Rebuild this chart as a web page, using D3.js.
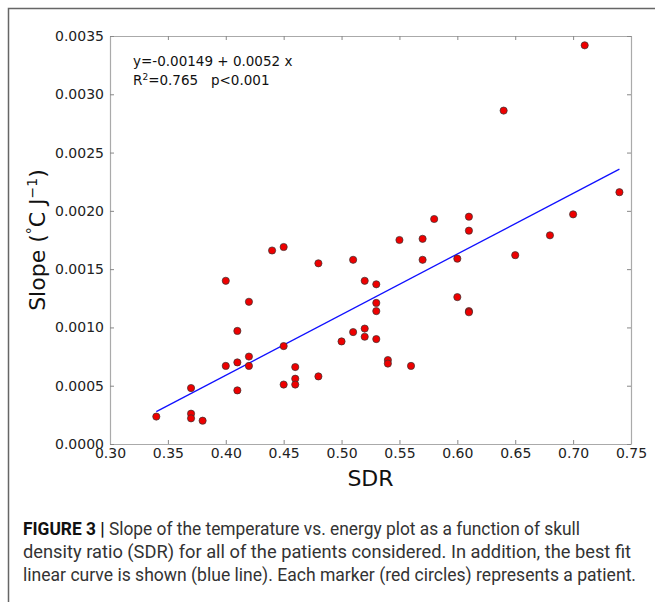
<!DOCTYPE html>
<html>
<head>
<meta charset="utf-8">
<script src="https://cdn.jsdelivr.net/npm/d3@7"></script>
<style>
  body { margin: 0; background: #fff; }
  svg { display: block; }
</style>
</head>
<body>
<div id="chart"></div>
<script>
// Data
const sdr = [0.34, 0.37, 0.37, 0.37, 0.38, 0.40, 0.40, 0.41, 0.41, 0.41,
  0.42, 0.42, 0.42, 0.44, 0.45, 0.45, 0.45, 0.46, 0.46, 0.46,
  0.48, 0.48, 0.50, 0.51, 0.51, 0.52, 0.52, 0.52, 0.53, 0.53,
  0.53, 0.53, 0.54, 0.54, 0.55, 0.56, 0.57, 0.57, 0.58, 0.60,
  0.60, 0.61, 0.61, 0.61, 0.61, 0.64, 0.65, 0.68, 0.70, 0.71, 0.74];
const slope = [0.000235, 0.00048, 0.00026, 0.00022, 0.00020, 0.00140, 0.00067, 0.00097, 0.00070, 0.00046,
  0.00122, 0.00075, 0.00067, 0.00166, 0.00169, 0.00084, 0.00051, 0.00066, 0.00056, 0.00051,
  0.00155, 0.00058, 0.00088, 0.00158, 0.00096, 0.00140, 0.00099, 0.00092, 0.00137, 0.00121,
  0.00114, 0.00090, 0.00072, 0.00069, 0.00175, 0.00067, 0.00176, 0.00158, 0.00193, 0.00159,
  0.00126, 0.00195, 0.00183, 0.00114, 0.00113, 0.00286, 0.00162, 0.00179, 0.00197, 0.00342, 0.00216];

const fitIntercept = -0.00149;
const fitSlope = 0.0052;
const fitRange = [0.34, 0.74];

const xTicks = [0.30, 0.35, 0.40, 0.45, 0.50, 0.55, 0.60, 0.65, 0.70, 0.75];
const yTicks = [0.0000, 0.0005, 0.0010, 0.0015, 0.0020, 0.0025, 0.0030, 0.0035];

const captionLines = [
  "Slope of the temperature vs. energy plot as a function of skull",
  "density ratio (SDR) for all of the patients considered. In addition, the best fit",
  "linear curve is shown (blue line). Each marker (red circles) represents a patient."
];

const W = 655, H = 602;
const plot = { left: 110, right: 631, top: 36, bottom: 444 };
const dejavu = "'DejaVu Sans', sans-serif";

const svg = d3.select("#chart").append("svg")
  .attr("width", W)
  .attr("height", H)
  .style("font-family", dejavu);

// figure frame
svg.append("path")
  .attr("d", `M8.5,${H} V8.5 H${W}`)
  .attr("fill", "none")
  .attr("stroke", "#666")
  .attr("stroke-width", 1.5);

const x = d3.scaleLinear().domain([0.30, 0.75]).range([plot.left, plot.right]);
const y = d3.scaleLinear().domain([0, 0.0035]).range([plot.bottom, plot.top]);

// axes with inward ticks on all four sides
let styleAxis = (g) => {
  g.attr("font-family", dejavu).attr("font-size", 14);
  g.select(".domain").attr("stroke", "#aaa").attr("stroke-width", 1.2);
  g.selectAll(".tick line").attr("stroke", "#888");
  g.selectAll(".tick text").attr("fill", "#222");
};

svg.append("g")
  .attr("transform", `translate(0,${plot.bottom})`)
  .call(d3.axisBottom(x).tickValues(xTicks).tickFormat(d3.format(".2f")).tickSizeInner(-4).tickSizeOuter(0).tickPadding(4))
  .call(styleAxis);

svg.append("g")
  .attr("transform", `translate(0,${plot.top})`)
  .call(d3.axisTop(x).tickValues(xTicks).tickFormat("").tickSizeInner(-4).tickSizeOuter(0))
  .call(styleAxis);

svg.append("g")
  .attr("transform", `translate(${plot.left},0)`)
  .call(d3.axisLeft(y).tickValues(yTicks).tickFormat(d3.format(".4f")).tickSizeInner(-4).tickSizeOuter(0).tickPadding(6))
  .call(styleAxis);

svg.append("g")
  .attr("transform", `translate(${plot.right},0)`)
  .call(d3.axisRight(y).tickValues(yTicks).tickFormat("").tickSizeInner(-4).tickSizeOuter(0))
  .call(styleAxis);

// fit line
const line = d3.line()
  .x(d => x(d))
  .y(d => y(fitIntercept + fitSlope * d));

svg.append("path")
  .datum(fitRange)
  .attr("d", line)
  .attr("fill", "none")
  .attr("stroke", "#1010ff")
  .attr("stroke-width", 1.3);

// markers
svg.append("g").selectAll("circle")
  .data(sdr.map((s, i) => ({ s: s, v: slope[i] })))
  .enter().append("circle")
  .attr("cx", d => x(d.s))
  .attr("cy", d => y(d.v))
  .attr("r", 3.6)
  .attr("fill", "#ee0000")
  .attr("stroke", "#333")
  .attr("stroke-width", 0.7);

// annotation
const note = svg.append("g").style("font-size", "13.5px").attr("fill", "#111");
note.append("text").attr("x", 133).attr("y", 66).text(`y=${fitIntercept} + ${fitSlope} x`);
const r2 = note.append("text").attr("x", 133).attr("y", 85).style("white-space", "pre");
r2.append("tspan").text("R");
r2.append("tspan").attr("dy", -5).style("font-size", "9px").text("2");
r2.append("tspan").attr("dy", 5).text("=0.765   p<0.001");

// axis labels
svg.append("text")
  .attr("x", plot.left + (plot.right - plot.left) / 2)
  .attr("y", 486)
  .attr("text-anchor", "middle")
  .style("font-size", "22px")
  .attr("fill", "#111")
  .text("SDR");

const yl = svg.append("text")
  .attr("transform", `translate(45,${(plot.top + plot.bottom) / 2}) rotate(-90)`)
  .attr("text-anchor", "middle")
  .style("font-size", "22px")
  .attr("fill", "#111");
yl.append("tspan").text("Slope (");
yl.append("tspan").attr("dy", -8).style("font-size", "14px").text("°");
yl.append("tspan").attr("dy", 8).text("C J");
yl.append("tspan").attr("dy", -8).style("font-size", "14px").text("−1");
yl.append("tspan").attr("dy", 8).text(")");

// caption, squeezed to the narrow widths of the original
const capEnds = [580, 631, 636];
const cap = svg.append("g")
  .style("font-family", "Roboto, 'Liberation Sans', sans-serif")
  .style("font-size", "18.5px")
  .attr("fill", "#333");
captionLines.forEach((t, i) => {
  const tx = cap.append("text")
    .attr("x", 23).attr("y", 535 + i * 23)
    .attr("textLength", capEnds[i] - 23)
    .attr("lengthAdjust", "spacingAndGlyphs");
  if (i === 0) {
    tx.append("tspan").style("font-weight", "bold").attr("fill", "#111").text("FIGURE 3 | ");
  }
  tx.append("tspan").text(t);
});
</script>
</body>
</html>
